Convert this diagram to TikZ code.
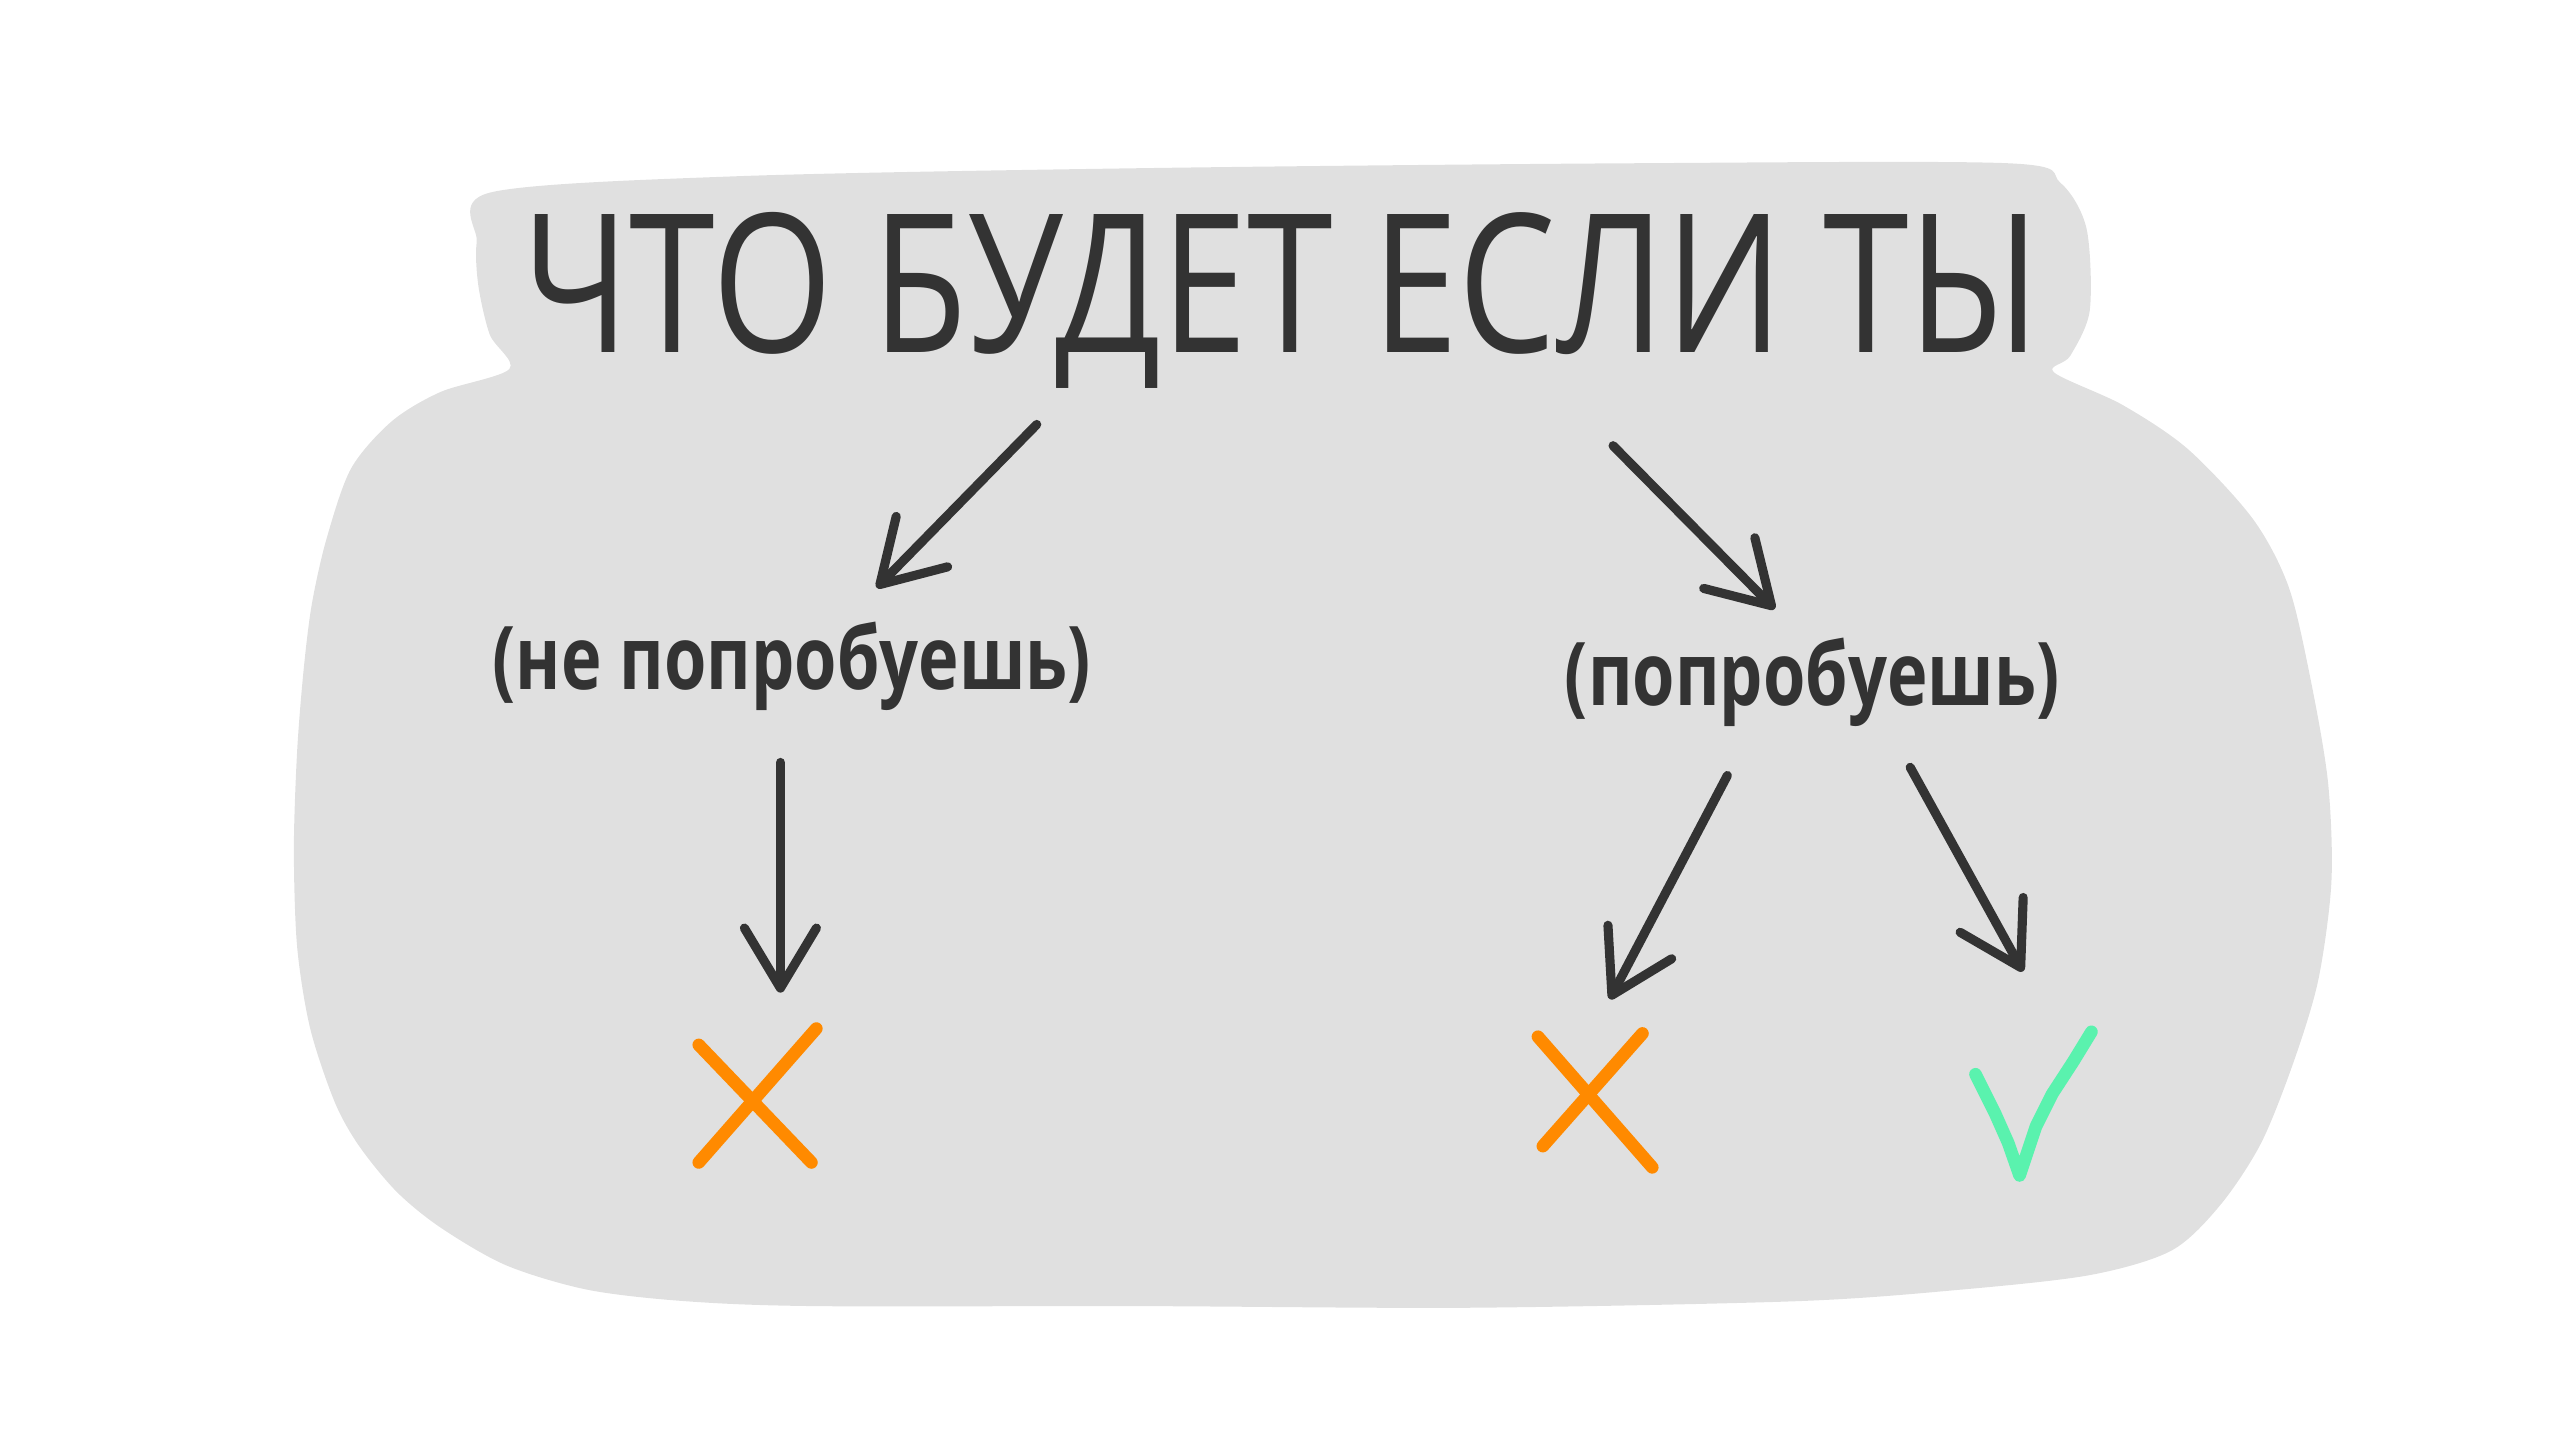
\documentclass[tikz,border=0pt]{standalone}
\usepackage{fontspec}
\usepackage{graphicx}
\setmainfont{Open Sans}
\usetikzlibrary{arrows.meta}
\definecolor{blobgray}{HTML}{E0E0E0}
\definecolor{ink}{HTML}{333333}
\definecolor{crossorange}{HTML}{FF8A00}
\definecolor{okgreen}{HTML}{5AF2AE}
\tikzset{
  flow/.style={ink, line width=2.6pt, line cap=round, line join=round,
    -{Straight Barb[length=0.6cm,width=0.72cm,round]}},
  headline/.style={text=ink, inner sep=0pt, font=\fontsize{55}{60}\selectfont},
  branchlabel/.style={text=ink, inner sep=0pt, font=\fontsize{25}{30}\selectfont\bfseries},
  marknode/.style={inner sep=0pt, minimum width=1.2cm, minimum height=1.35cm},
  crossline/.style={crossorange, line width=3.6pt, line cap=round, line join=round},
  okline/.style={okgreen, line width=3.6pt, line cap=round, line join=round},
}
\begin{document}
\begin{tikzpicture}[x=0.016327cm, y=-0.016327cm]
  \useasboundingbox (0,0) rectangle (1568,882);

  % background blob
  \fill[blobgray] plot[smooth cycle, tension=0.5] coordinates {
    (300,118) (450,108) (700,103) (1000,100) (1230,100) (1262,112) (1278,140)
    (1280,190) (1268,218) (1258,228) (1300,248) (1340,275) (1380,318) (1402,360)
    (1416,420) (1426,480) (1428,540) (1420,600) (1405,650) (1385,700) (1360,738)
    (1330,766) (1280,781) (1200,790) (1100,797) (900,801) (700,800) (500,800)
    (420,797) (360,790) (310,775) (270,752) (243,730) (220,702) (205,675)
    (190,630) (182,580) (180,520) (182,460) (186,410) (191,370) (200,330)
    (215,287) (240,258) (270,240) (312,226) (300,205) (293,175) (292,148)};

  \node[headline] (title) at (785,184) {\scalebox{0.8}[1]{ЧТО БУДЕТ ЕСЛИ ТЫ}};
  \node[branchlabel] (neg) at (485,408) {\scalebox{0.78}[1]{(не попробуешь)}};
  \node[branchlabel] (pos) at (1110,418) {\scalebox{0.78}[1]{(попробуешь)}};

  \node[marknode] (x1) at (462,672) {};
  \node[marknode] (x2) at (976,672) {};
  \node[marknode] (ok) at (1245,676) {};

  \foreach \a/\sa/\b/\sb in {title/{-150,76}/neg/{52,-48}, title/{203,89}/pos/{-23,-45},
      neg/{-7,59}/x1/{16,-64}, pos/{-52,57}/x2/{10,-60}, pos/{60,52}/ok/{-6,-81}}{
    \draw[flow] ([shift={(\sa)}]\a.center) -- ([shift={(\sb)}]\b.center);
  }

  \draw[crossline] (x1.center) ++(-34,-32) -- ++(69,72);
  \draw[crossline] (x1.center) ++(38,-42) -- ++(-72,82);
  \draw[crossline] (x2.center) ++(-34,-37) -- ++(70,80);
  \draw[crossline] (x2.center) ++(30,-39) -- ++(-61,69);
  \draw[okline] (ok.center) ++(-35,-18) -- ++(12,24) -- ++(8,18) -- ++(7,20)
    -- ++(10,-30) -- ++(10,-20) -- ++(13,-20) -- ++(11,-18);
\end{tikzpicture}
\end{document}
